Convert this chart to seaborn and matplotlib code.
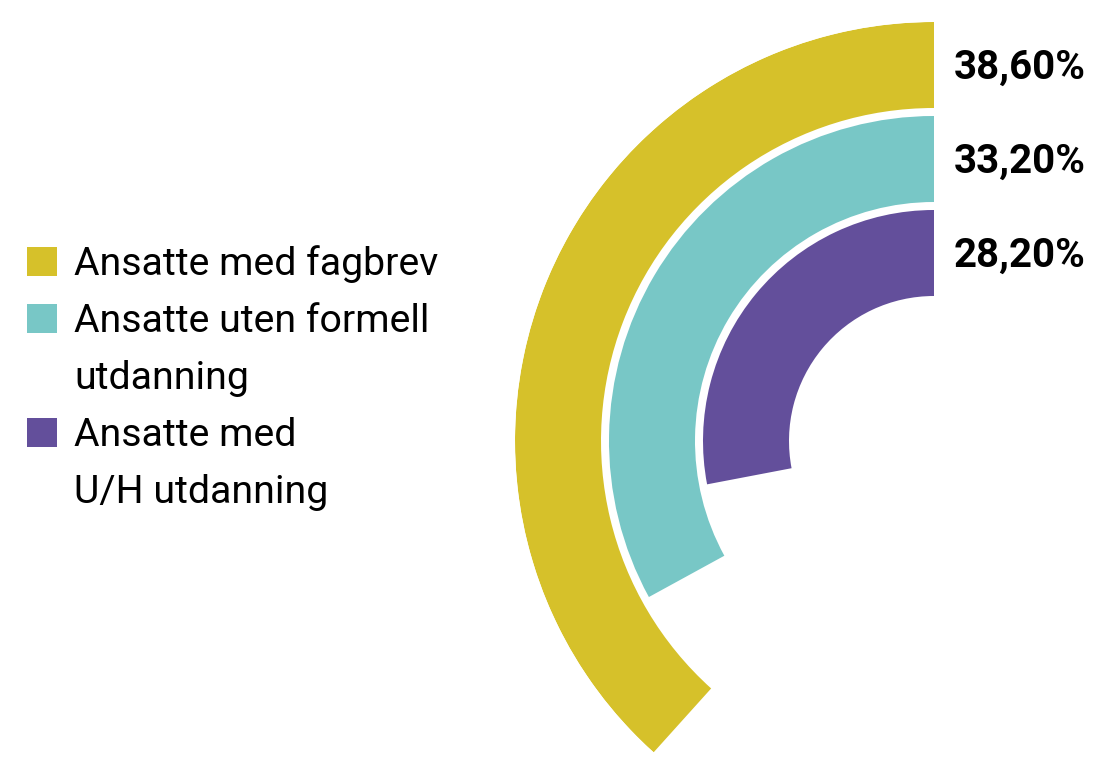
import numpy as np
import matplotlib
matplotlib.use("Agg")
import matplotlib.pyplot as plt
from matplotlib.patches import Patch
import seaborn as sns

# ---- data ----
categories = ["Ansatte med fagbrev", "Ansatte uten formell utdanning", "Ansatte med U/H utdanning"]
values = [38.6, 33.2, 28.2]
value_labels = ["38,60%", "33,20%", "28,20%"]
legend_lines = [["Ansatte med fagbrev"], ["Ansatte uten formell", "utdanning"], ["Ansatte med", "U/H utdanning"]]
colors = ["#D6C12A", "#78C7C6", "#634F9B"]

sns.set_theme(style="white")
plt.rcParams["font.family"] = ["Roboto", "DejaVu Sans"]

W, H = 1099, 770
fig = plt.figure(figsize=(W / 100, H / 100), dpi=100)

# polar axes placed so that centre is at (934, 441) px from top-left, outer radius 419 px
cx, cy, R = 934, 441, 419
ax = fig.add_axes([(cx - R) / W, (H - cy - R) / H, 2 * R / W, 2 * R / H], projection="polar")
ax.set_theta_zero_location("N")
ax.set_theta_direction(1)
ax.set_ylim(0, R)
ax.set_axis_off()

full_scale = 100.7  # value that would fill a full circle
outer = [R, 325, 231]
thick = 86
for v, o, c in zip(values, outer, colors):
    theta = v / full_scale * 2 * np.pi
    ax.bar(0, thick, width=theta, bottom=o - thick, align="edge", color=c, edgecolor="none", linewidth=0)

for lab, o in zip(value_labels, outer):
    ax.annotate(lab, xy=(0, o - thick / 2), xytext=(20 * 0.72, -3 * 0.72), textcoords="offset points",
                ha="left", va="center", fontsize=29, fontweight="bold", color="black",
                annotation_clip=False)

# legend: continuation lines get invisible handles
handles, labels = [], []
for lines, c in zip(legend_lines, colors):
    for i, line in enumerate(lines):
        handles.append(Patch(facecolor=c if i == 0 else "none", edgecolor="none"))
        labels.append(line)

fs = 28.3
leg = fig.legend(handles, labels, loc="upper left", bbox_to_anchor=(27 / W, 1 - 245 / H),
                 frameon=False, fontsize=fs, handlelength=0.76, handleheight=0.76,
                 handletextpad=0.44, labelspacing=0.51, borderpad=0, borderaxespad=0)
for t in leg.get_texts():
    t.set_color("black")

fig.savefig("out.png", dpi=100)
